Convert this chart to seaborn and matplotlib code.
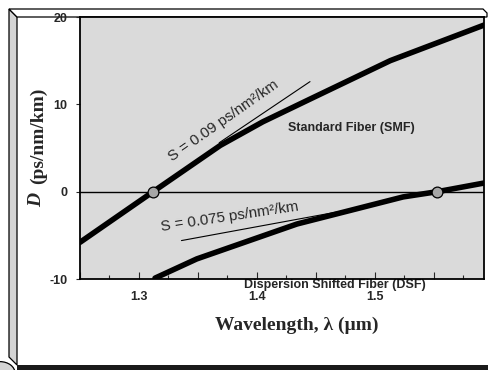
"""
Dispersion vs wavelength for standard and dispersion shifted fiber.
"""

#Libraries
import numpy as np
import pandas as pd
import matplotlib
matplotlib.use('Agg')
import matplotlib.pyplot as plt
import matplotlib.patches as mpatches
import seaborn as sns

#Data
smf_wl = [1.25, 1.312, 1.369, 1.405, 1.445, 1.513, 1.593]
smf_d = [-5.8, 0.0, 5.3, 8.0, 10.6, 15.0, 19.1]

dsf_wl = [1.3136, 1.349, 1.434, 1.524, 1.553, 1.593]
dsf_d = [-9.9, -7.7, -3.7, -0.6, 0.0, 1.0]

smf_slope_wl = [1.368, 1.445]
smf_slope_d = [5.6, 12.6]

dsf_slope_wl = [1.336, 1.473]
dsf_slope_d = [-5.6, -2.2]

zero_wl = [1.312, 1.553]
zero_d = [0.0, 0.0]

x_major = [1.25, 1.30, 1.35, 1.40, 1.45, 1.50, 1.55]
x_labels = ['', '1.3', '', '1.4', '', '1.5', '']
y_ticks = [-10, 0, 10, 20]

W, H = 488, 370

#Style
sns.set_style('ticks')
plt.rcParams['font.family'] = ['Liberation Sans', 'DejaVu Sans']
plt.rcParams['axes.unicode_minus'] = False

fig = plt.figure(figsize=(W / 100, H / 100), dpi=100)
fig.patch.set_facecolor('white')


def px(x, y):
    return (x / W, 1 - y / H)


#3D looking slide frame, drawn under the axes
left_bevel = mpatches.Polygon([px(9, 9), px(17, 17), px(17, 365), px(9, 357)],
                              closed=True, transform=fig.transFigure,
                              facecolor='#d4d4d4', edgecolor='black', linewidth=0.9)
top_bevel = mpatches.Polygon([px(9, 9), px(483, 9), px(487, 13), px(487, 17), px(17, 17)],
                             closed=True, transform=fig.transFigure,
                             facecolor='white', edgecolor='black', linewidth=0.9)
bottom_bar = mpatches.Rectangle(px(17, 370), (W - 17) / W, 5.5 / H, transform=fig.transFigure,
                                facecolor='#1a1a1a', edgecolor='none')
corner = mpatches.Circle(px(0, 373), 15 / W, transform=fig.transFigure,
                         facecolor='#d4d4d4', edgecolor='black', linewidth=0.9)
for p in (left_bevel, top_bevel, bottom_bar, corner):
    p.set_zorder(-1)
    fig.add_artist(p)

#Axes
x0, x1, y0, y1 = 80, 484, 17, 279
ax = fig.add_axes([x0 / W, 1 - y1 / H, (x1 - x0) / W, (y1 - y0) / H])
ax.set_facecolor('#dadada')

df_smf = pd.DataFrame({'wl': smf_wl, 'D': smf_d})
df_dsf = pd.DataFrame({'wl': dsf_wl, 'D': dsf_d})

ax.axhline(0, color='black', linewidth=1.0, zorder=1)
sns.lineplot(data=df_smf, x='wl', y='D', ax=ax, color='black', linewidth=4.0, sort=True, zorder=3)
sns.lineplot(data=df_dsf, x='wl', y='D', ax=ax, color='black', linewidth=4.0, sort=True, zorder=3)
sns.lineplot(x=smf_slope_wl, y=smf_slope_d, ax=ax, color='black', linewidth=0.8, zorder=2)
sns.lineplot(x=dsf_slope_wl, y=dsf_slope_d, ax=ax, color='black', linewidth=0.8, zorder=2)
sns.scatterplot(x=zero_wl, y=zero_d, ax=ax, color='#a6a6a6', edgecolor='black',
                linewidth=0.9, s=60, zorder=4)

ax.set_xlim(1.25, 1.5925)
ax.set_ylim(-10, 20)

ax.set_xticks(x_major)
ax.set_xticklabels(x_labels)
ax.set_xticks(np.arange(1.275, 1.59, 0.05), minor=True)
ax.tick_params(axis='x', which='major', direction='in', length=5, width=0.8, pad=9,
               labelsize=9)
ax.tick_params(axis='x', which='minor', direction='in', length=3, width=0.8)
ax.set_yticks(y_ticks)
ax.tick_params(axis='y', direction='out', length=3, width=0.8, pad=6, labelsize=9)
for lab in ax.get_xticklabels() + ax.get_yticklabels():
    lab.set_fontweight('bold')

for s in ax.spines.values():
    s.set_linewidth(1.3)
    s.set_color('black')

ax.set_xlabel('')
ax.set_ylabel('')

#Annotations
ax.text(1.372, 8.1, 'S = 0.09 ps/nm²/km', fontsize=10.8, rotation=35,
        ha='center', va='center', rotation_mode='anchor')
ax.text(1.48, 7.3, 'Standard Fiber (SMF)', fontsize=9, fontweight='bold',
        ha='center', va='center')
ax.text(1.377, -2.9, 'S = 0.075 ps/nm²/km', fontsize=10.8, rotation=8.5,
        ha='center', va='center', rotation_mode='anchor')
ax.text(1.466, -10.05, 'Dispersion Shifted Fiber (DSF)', fontsize=9, fontweight='bold',
        ha='center', va='top', clip_on=False, zorder=1)

#Axis titles
fig.text(297 / W, 1 - 325 / H, 'Wavelength, λ (µm)', family='Liberation Serif',
         fontsize=14, fontweight='bold', ha='center', va='center')
fig.text(37 / W, 1 - 200 / H, 'D', family='Liberation Serif', fontsize=14,
         fontweight='bold', style='italic', rotation=90, ha='center', va='center')
fig.text(38 / W, 1 - 136 / H, '(ps/nm/km)', family='Liberation Serif', fontsize=14,
         fontweight='bold', rotation=90, ha='center', va='center')

plt.savefig('out.png', dpi=100)
